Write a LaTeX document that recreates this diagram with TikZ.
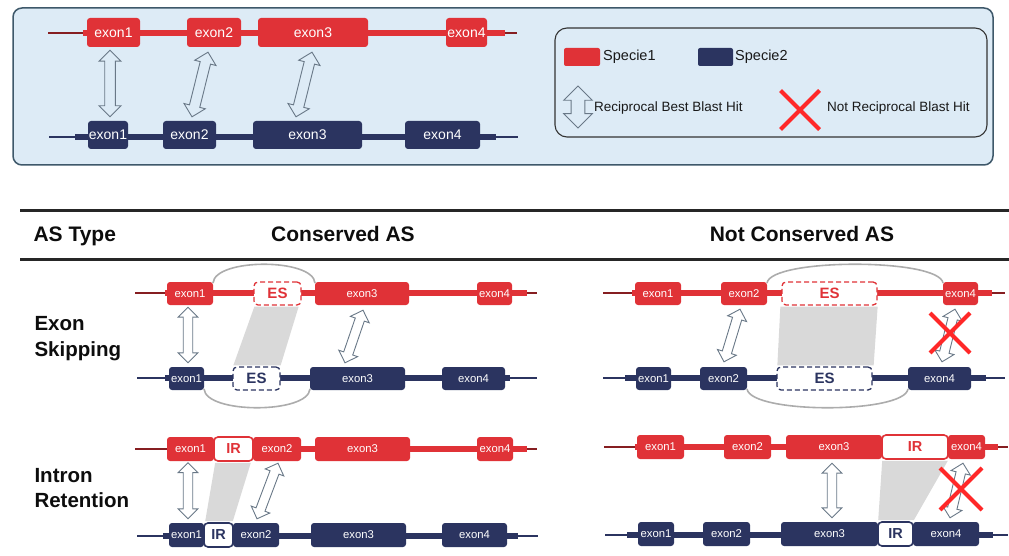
\documentclass[tikz,border=0pt]{standalone}
\usepackage{fontspec}
\setmainfont{Liberation Sans}
\usepackage{tikz}
\usetikzlibrary{calc}
\usetikzlibrary{shapes.misc}
\usepackage{xcolor}
\definecolor{spred}{RGB}{224,50,55}
\definecolor{spblue}{RGB}{43,52,96}
\definecolor{xred}{RGB}{255,40,40}
\definecolor{panelbg}{RGB}{221,235,246}
\definecolor{panelline}{RGB}{62,88,106}
\definecolor{arrowline}{RGB}{105,120,135}

% hollow double arrow between two points, #1 scales the head
\newcommand{\rbh}[3][1]{%
  \coordinate (h1) at ($(#2)!#1*11pt!(#3)$);
  \coordinate (h2) at ($(#3)!#1*11pt!(#2)$);
  \draw[rbharrow] (#2) -- ($(h1)!#1*11pt!90:(#3)$) -- ($(h1)!#1*5.3pt!90:(#3)$)
    -- ($(h2)!#1*5.3pt!90:(#3)$) -- ($(h2)!#1*11pt!90:(#3)$) -- (#3)
    -- ($(h2)!#1*11pt!-90:(#3)$) -- ($(h2)!#1*5.3pt!-90:(#3)$)
    -- ($(h1)!#1*5.3pt!-90:(#3)$) -- ($(h1)!#1*11pt!-90:(#3)$) -- cycle;
}

\begin{document}
\begin{tikzpicture}[x=1pt,y=-1pt,
  span/.style n args={4}{minimum width={(#2-#1)*1pt}, minimum height={(#4-#3)*1pt},
    at={({(#1+#2)/2},{(#3+#4)/2})}},
  ex1/.style={fill=spred, rounded corners=3pt, inner sep=0pt, text=white, font=\fontsize{11.3}{13}\selectfont},
  ex2/.style={ex1, fill=spblue},
  big/.style={font=\fontsize{14}{16}\selectfont},
  esr/.style={draw=spred, dash pattern=on 5pt off 3pt, line width=1.3pt, fill=white, rounded corners=4pt, inner sep=0pt, text=spred, font=\bfseries\fontsize{15}{17}\selectfont},
  esb/.style={esr, draw=spblue, text=spblue},
  irr/.style={esr, solid, line width=1.6pt, font=\bfseries\fontsize{14.5}{16}\selectfont},
  irb/.style={irr, draw=spblue, text=spblue},
  thinr/.style={draw=spred!60!black, line width=2pt},
  thickr/.style={draw=spred, line width=6pt},
  thinb/.style={draw=spblue, line width=2pt},
  thickb/.style={draw=spblue, line width=6pt},
  loopline/.style={draw=gray!65, line width=1.6pt},
  shade/.style={fill=gray!30},
  rbharrow/.style={draw=arrowline, line width=0.9pt},
  nox/.style={cross out, draw=xred, line width=4pt, inner sep=0pt},
  rule/.style={draw=gray!30!black, line width=3pt},
  hdr/.style={text=gray!10!black, font=\bfseries\fontsize{21}{25}\selectfont},
  rowlab/.style={text=gray!10!black, font=\bfseries\fontsize{20.5}{25}\selectfont, anchor=base west},
  lgtext/.style={text=gray!20!black, anchor=west, inner sep=0pt, font=\fontsize{13.5}{16}\selectfont}]
\useasboundingbox (0,0) rectangle (1009,556);

% top panel
\draw[panelline, fill=panelbg, line width=1.5pt, rounded corners=9pt] (13,8) rectangle (993,165);
\draw[gray!40!black, line width=1.1pt, rounded corners=12pt] (555,28) rectangle (987,137);

\draw[thinr] (48,33) -- (83,33);
\draw[thickr] (83,33) -- (505,33);
\draw[thinr] (505,33) -- (517,33);
\draw[thinb] (49,137) -- (75,137);
\draw[thickb] (75,137) -- (496,137);
\draw[thinb] (496,137) -- (518,137);

\node[ex1, big, span={87}{140}{18}{47}] (ra1) {exon1};
\node[ex1, big, span={187}{241}{18}{47}] (ra2) {exon2};
\node[ex1, big, span={258}{368}{18}{47}] (ra3) {exon3};
\node[ex1, big, span={446}{487}{18}{47}] (ra4) {exon4};
\node[ex2, big, span={88}{128}{121}{149}] (ba1) {exon1};
\node[ex2, big, span={163}{216}{121}{149}] (ba2) {exon2};
\node[ex2, big, span={253}{362}{121}{149}] (ba3) {exon3};
\node[ex2, big, span={405}{480}{121}{149}] (ba4) {exon4};

\rbh{[shift={(-3.5,3)}]ra1.south}{[shift={(2,-4)}]ba1.north}
\rbh{[shift={(-6,5)}]ra2.south}{[shift={(2.5,-4)}]ba2.north}
\rbh{[shift={(-1,5)}]ra3.south}{[shift={(-11.5,-4)}]ba3.north}

% legend
\node[fill=spred, rounded corners=2pt, inner sep=0pt, span={564}{600}{48}{66}] (sw1) {};
\node[fill=spblue, rounded corners=2pt, inner sep=0pt, span={698}{733}{48}{66}] (sw2) {};
\node[lgtext, font=\fontsize{14.5}{16}\selectfont] (lg1) at (603,57) {Specie1};
\node[lgtext, font=\fontsize{14.5}{16}\selectfont] (lg2) at (735,57) {Specie2};
\coordinate (lgt) at (578,86);
\coordinate (lgb) at (578,128);
\rbh[1.3]{lgt}{lgb}
\node[lgtext] (lg3) at (594,108) {Reciprocal Best Blast Hit};
\node[nox, minimum size=35pt] (nx1) at (800,110) {};
\node[lgtext] (lg4) at (827,108) {Not Reciprocal Blast Hit};

% table head
\draw[rule] (20,211) -- (1009,211);
\draw[rule] (20,259) -- (1009,259);
\node[hdr, anchor=base west] (t1) at (30,241) {AS Type};
\node[hdr, anchor=base] (t2) at (343,241) {Conserved AS};
\node[hdr, anchor=base] (t3) at (802,241) {Not Conserved AS};
\node[rowlab] (r1) at (31,330) {Exon};
\node[rowlab] (r2) at (31,356) {Skipping};
\node[rowlab] (r3) at (31,482) {Intron};
\node[rowlab] (r4) at (31,507) {Retention};

% exon skipping, conserved
\draw[thinr] (135,293) -- (165,293);
\draw[thickr] (165,293) -- (527,293);
\draw[thinr] (527,293) -- (537,293);
\draw[thinb] (137,378) -- (165,378);
\draw[thickb] (165,378) -- (510,378);
\draw[thinb] (510,378) -- (537,378);
\draw[loopline] (213,283) .. controls +(2,-25) and +(-2,-25) .. (315,283);
\draw[loopline] (204,389) .. controls +(2,25) and +(-2,25) .. (310,389);
\node[ex1, span={167}{213}{282}{305}] (cr1) {exon1};
\node[esr, span={254}{301}{282}{305}] (cres) {ES};
\node[ex1, span={315}{409}{282}{305}] (cr3) {exon3};
\node[ex1, span={477}{512}{282}{305}] (cr4) {exon4};
\node[ex2, span={169}{204}{367}{390}] (cb1) {exon1};
\node[esb, span={233}{280}{367}{390}] (cbes) {ES};
\node[ex2, span={310}{405}{367}{390}] (cb3) {exon3};
\node[ex2, span={442}{505}{367}{390}] (cb4) {exon4};
\fill[shade] ([shift={(1,1)}]cres.south west) -- ([shift={(-3,1)}]cres.south east) -- ([shift={(0,-1)}]cbes.north east) -- ([shift={(1,-1)}]cbes.north west) -- cycle;
\rbh[0.9]{[shift={(-2,2)}]cr1.south}{[shift={(1.5,-4)}]cb1.north}
\rbh[0.9]{[shift={(1,5)}]cr3.south}{[shift={(-12.5,-4)}]cb3.north}

% exon skipping, not conserved
\draw[thinr] (603,293) -- (632,293);
\draw[thickr] (632,293) -- (992,293);
\draw[thinr] (992,293) -- (1005,293);
\draw[thinb] (603,378) -- (625,378);
\draw[thickb] (625,378) -- (986,378);
\draw[thinb] (986,378) -- (1005,378);
\draw[loopline] (767,283) .. controls +(4,-25) and +(-4,-25) .. (943,283);
\draw[loopline] (747,389) .. controls +(4,25) and +(-4,25) .. (908,389);
\node[ex1, span={635}{681}{282}{305}] (nr1) {exon1};
\node[ex1, span={721}{767}{282}{305}] (nr2) {exon2};
\node[esr, span={782}{877}{282}{305}] (nres) {ES};
\node[ex1, span={943}{978}{282}{305}] (nr4) {exon4};
\node[ex2, span={636}{671}{367}{390}] (nb1) {exon1};
\node[ex2, span={700}{747}{367}{390}] (nb2) {exon2};
\node[esb, span={777}{872}{367}{390}] (nbes) {ES};
\node[ex2, span={908}{971}{367}{390}] (nb4) {exon4};
\fill[shade] ([shift={(-1,1)}]nres.south west) -- ([shift={(0,1)}]nres.south east) -- ([shift={(1,-1)}]nbes.north east) -- ([shift={(1,-1)}]nbes.north west) -- cycle;
\rbh[0.9]{[shift={(-4,4)}]nr2.south}{[shift={(0.5,-5)}]nb2.north}
\rbh[0.9]{[shift={(-5.5,4)}]nr4.south}{[shift={(2.5,-5)}]nb4.north}
\node[nox, minimum size=36pt] (nx2) at (950,333) {};

% intron retention, conserved
\draw[thinr] (135,449) -- (167,449);
\draw[thickr] (167,449) -- (527,449);
\draw[thinr] (527,449) -- (537,449);
\draw[thinb] (137,536) -- (163,536);
\draw[thickb] (163,536) -- (518,536);
\draw[thinb] (518,536) -- (538,536);
\node[ex1, span={167}{214}{437}{461}] (ir1) {exon1};
\node[irr, span={214}{253}{437}{461}] (irir) {IR};
\node[ex1, span={253}{301}{437}{461}] (ir2) {exon2};
\node[ex1, span={315}{410}{437}{461}] (ir3) {exon3};
\node[ex1, span={477}{513}{437}{461}] (ir4) {exon4};
\node[ex2, span={169}{204}{523}{547}] (ib1) {exon1};
\node[irb, span={204}{233}{523}{547}] (ibir) {IR};
\node[ex2, span={233}{279}{523}{547}] (ib2) {exon2};
\node[ex2, span={311}{406}{523}{547}] (ib3) {exon3};
\node[ex2, span={442}{507}{523}{547}] (ib4) {exon4};
\fill[shade] ([shift={(2,1)}]irir.south west) -- ([shift={(-3,1)}]irir.south east) -- ([shift={(-1,-1)}]ibir.north east) -- ([shift={(2,-1)}]ibir.north west) -- cycle;
\rbh[0.9]{[shift={(-2.5,1.5)}]ir1.south}{[shift={(1.5,-4)}]ib1.north}
\rbh[0.9]{[shift={(1,2)}]ir2.south}{[shift={(1,-4)}]ib2.north}

% intron retention, not conserved
\draw[thinr] (604,447) -- (635,447);
\draw[thickr] (635,447) -- (998,447);
\draw[thinr] (998,447) -- (1008,447);
\draw[thinb] (605,535) -- (627,535);
\draw[thickb] (627,535) -- (993,535);
\draw[thinb] (993,535) -- (1008,535);
\node[ex1, span={637}{684}{435}{459}] (jr1) {exon1};
\node[ex1, span={724}{771}{435}{459}] (jr2) {exon2};
\node[ex1, span={786}{882}{435}{459}] (jr3) {exon3};
\node[irr, span={882}{948}{435}{459}] (jrir) {IR};
\node[ex1, span={948}{985}{435}{459}] (jr4) {exon4};
\node[ex2, span={638}{674}{522}{546}] (jb1) {exon1};
\node[ex2, span={703}{750}{522}{546}] (jb2) {exon2};
\node[ex2, span={781}{878}{522}{546}] (jb3) {exon3};
\node[irb, span={878}{913}{522}{546}] (jbir) {IR};
\node[ex2, span={913}{979}{522}{546}] (jb4) {exon4};
\fill[shade] ([shift={(1,1)}]jrir.south west) -- ([shift={(-1,1)}]jrir.south east) -- ([shift={(0,-1)}]jbir.north east) -- ([shift={(1,-1)}]jbir.north west) -- cycle;
\rbh[0.9]{[shift={(-2,4)}]jr3.south}{[shift={(2.5,-4)}]jb3.north}
\rbh[0.9]{[shift={(-3.5,4)}]jr4.south}{[shift={(4,-4)}]jb4.north}
\node[nox, minimum size=38pt] (nx3) at (961,489) {};
\end{tikzpicture}
\end{document}
